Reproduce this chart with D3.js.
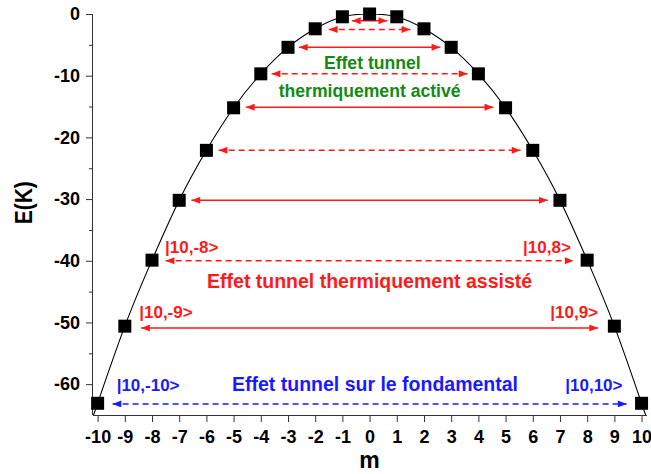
<!DOCTYPE html>
<html>
<head>
<meta charset="utf-8">
<script src="https://cdn.jsdelivr.net/npm/d3@7"></script>
<style>
  body { margin: 0; background: #fff; }
  text { font-family: "Liberation Sans", Arial, sans-serif; font-weight: bold; }
</style>
</head>
<body>
<script>
// m values and energies E(K)
var mValues = [-10, -9, -8, -7, -6, -5, -4, -3, -2, -1, 0, 1, 2, 3, 4, 5, 6, 7, 8, 9, 10];
var energies = [-63.1, -50.6, -39.9, -30.2, -22.1, -15.2, -9.7, -5.4, -2.4, -0.45, 0,
                -0.45, -2.4, -5.4, -9.7, -15.2, -22.1, -30.2, -39.9, -50.6, -63.1];

// tunnelling arrows: |m| level, energy of the arrow, half span in m, dashed or not
var arrowLevel = [1, 2, 3, 4, 5, 6, 7, 8, 9, 10];
var arrowE = [-1.1, -2.5, -5.4, -9.7, -15.1, -22.1, -30.2, -40.0, -50.9, -63.2];
var arrowSpan = [0.65, 1.5, 2.6, 3.6, 4.55, 5.55, 6.55, 7.5, 8.4, 9.45];
var arrowDashed = [false, true, false, true, false, true, false, true, false, true];

var xTicks = d3.range(-10, 11, 1);
var yMajorTicks = [0, -10, -20, -30, -40, -50, -60];
var yMinorTicks = [-5, -15, -25, -35, -45, -55];

var margin = {top: 14, right: 4, bottom: 59, left: 93},
    width = 651 - margin.left - margin.right,
    height = 474 - margin.top - margin.bottom;

var svg = d3.select("body").append("svg")
    .attr("width", 651)
    .attr("height", 474)
  .append("g")
    .attr("transform", "translate(" + margin.left + "," + margin.top + ")");

var x = d3.scaleLinear().domain([-10.17, 10.2]).range([0, width]);
var y = d3.scaleLinear().domain([-65, 0]).range([height, 0]);

var red = "#ff1a1a", blue = "#1a1aff", green = "#148a14";

// arrow heads
var defs = svg.append("defs");
[["red", red], ["blue", blue]].forEach(function(c) {
  defs.append("marker")
      .attr("id", "head-" + c[0])
      .attr("viewBox", "0 0 10 8")
      .attr("refX", 10).attr("refY", 4)
      .attr("markerWidth", 12).attr("markerHeight", 7)
      .attr("markerUnits", "userSpaceOnUse")
      .attr("orient", "auto-start-reverse")
    .append("path")
      .attr("d", "M0,0L10,4L0,8Z")
      .attr("fill", c[1]);
});
defs.append("clipPath").attr("id", "plot")
  .append("rect").attr("width", width).attr("height", height);

// axes
var xAxis = d3.axisBottom(x).tickValues(xTicks).tickSize(7).tickPadding(8);
var gx = svg.append("g")
    .attr("transform", "translate(0," + height + ")")
    .call(xAxis);
gx.select(".domain").attr("d", "M0,0.5H" + width);

var gy = svg.append("g").call(d3.axisLeft(y).tickValues(yMajorTicks).tickSize(7).tickPadding(6));
gy.select(".domain").attr("d", "M-0.5," + height + "V0");
gy.selectAll(".minor").data(yMinorTicks).enter().append("line")
    .attr("x1", -4).attr("x2", 0)
    .attr("y1", function(d) { return y(d) + 0.5; })
    .attr("y2", function(d) { return y(d) + 0.5; })
    .attr("stroke", "#333");

svg.selectAll(".domain, .tick line").attr("stroke", "#333");
svg.selectAll(".tick text")
    .attr("font-size", "18px")
    .attr("fill", "#000")
    .text(function(d) { return d3.format("d")(d).replace("−", "-"); });

svg.append("text")
    .attr("x", x(0)).attr("y", 454)
    .attr("text-anchor", "middle")
    .attr("font-size", "23px")
    .text("m");

svg.append("text")
    .attr("transform", "translate(" + (-61) + "," + y(-30.6) + ") scale(1.18,1) rotate(-90)")
    .attr("text-anchor", "middle")
    .attr("font-size", "21px")
    .text("E(K)");

// curve through the points, extended to the axes
var pts = mValues.map(function(m, i) { return [m, energies[i]]; });
var n = pts.length;
var ext = 0.3;
var first = [pts[0][0] - ext, pts[0][1] + (pts[0][1] - pts[1][1]) * ext];
var last = [pts[n - 1][0] + ext, pts[n - 1][1] + (pts[n - 1][1] - pts[n - 2][1]) * ext];
var line = d3.line()
    .curve(d3.curveNatural)
    .x(function(d) { return x(d[0]); })
    .y(function(d) { return y(d[1]); });
svg.append("path")
    .datum([first].concat(pts, [last]))
    .attr("clip-path", "url(#plot)")
    .attr("d", line)
    .attr("fill", "none")
    .attr("stroke", "#000")
    .attr("stroke-width", 1.1);

// arrows
svg.selectAll(".arrow").data(arrowLevel).enter().append("line")
    .attr("class", "arrow")
    .attr("x1", function(d, i) { return x(-arrowSpan[i]); })
    .attr("x2", function(d, i) { return x(arrowSpan[i]); })
    .attr("y1", function(d, i) { return y(arrowE[i]); })
    .attr("y2", function(d, i) { return y(arrowE[i]); })
    .attr("stroke", function(d) { return d === 10 ? blue : red; })
    .attr("stroke-width", 1.5)
    .attr("stroke-dasharray", function(d, i) { return arrowDashed[i] ? "6,4" : null; })
    .attr("marker-start", function(d) { return d === 10 ? "url(#head-blue)" : "url(#head-red)"; })
    .attr("marker-end", function(d) { return d === 10 ? "url(#head-blue)" : "url(#head-red)"; });

// squares
svg.selectAll(".pt").data(pts).enter().append("rect")
    .attr("class", "pt")
    .attr("x", function(d) { return x(d[0]) - 6.5; })
    .attr("y", function(d) { return y(d[1]) - 6.5; })
    .attr("width", 13).attr("height", 13)
    .attr("fill", "#000");

// annotations
var notes = [
  {t: "Effet tunnel", m: 0.1, e: -8.9, a: "middle", c: green, s: 17.6},
  {t: "thermiquement activé", m: 0, e: -13.4, a: "middle", c: green, s: 17.6},
  {t: "|10,-8>", m: -7.52, e: -38.7, a: "start", c: red, s: 17},
  {t: "|10,8>", m: 7.4, e: -38.7, a: "end", c: red, s: 17},
  {t: "Effet tunnel thermiquement assisté", m: 0, e: -44.4, a: "middle", c: red, s: 19.5},
  {t: "|10,-9>", m: -8.47, e: -49.3, a: "start", c: red, s: 17},
  {t: "|10,9>", m: 8.4, e: -49.3, a: "end", c: red, s: 17},
  {t: "|10,-10>", m: -9.3, e: -61.1, a: "start", c: blue, s: 17},
  {t: "Effet tunnel sur le fondamental", m: 0.2, e: -61.1, a: "middle", c: blue, s: 19.5},
  {t: "|10,10>", m: 9.3, e: -61.1, a: "end", c: blue, s: 17}
];
svg.selectAll(".note").data(notes).enter().append("text")
    .attr("class", "note")
    .attr("x", function(d) { return x(d.m); })
    .attr("y", function(d) { return y(d.e); })
    .attr("text-anchor", function(d) { return d.a; })
    .attr("font-size", function(d) { return d.s + "px"; })
    .attr("fill", function(d) { return d.c; })
    .text(function(d) { return d.t; });
</script>
</body>
</html>
